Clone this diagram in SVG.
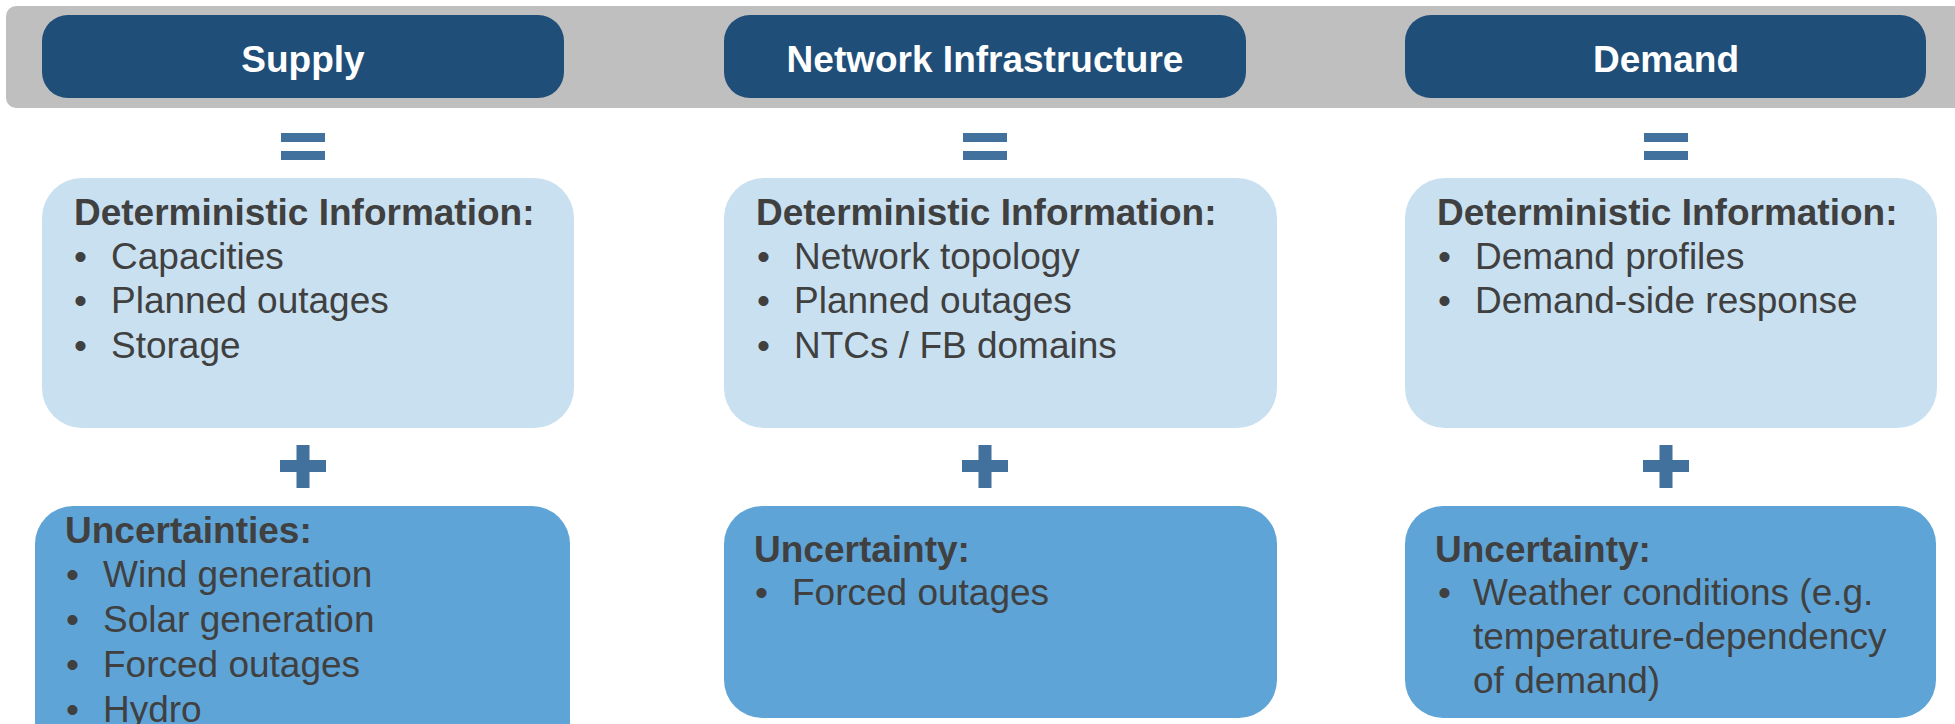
<svg xmlns="http://www.w3.org/2000/svg" width="1955" height="724" viewBox="0 0 1955 724">
<style>
.band{fill:#BFBFBF}
.hdr{fill:#1F4E79}
.det{fill:#C9E0F1}
.unc{fill:#5FA4D6}
.sign{fill:#41719C}
text{font-family:"Liberation Sans",Arial,sans-serif;font-size:37px;fill:#404040}
.ht{fill:#FFFFFF;font-weight:bold;text-anchor:middle}
.b{font-weight:bold}
</style>
<defs>
<g id="eq"><rect x="-22" y="0" width="44" height="9"/><rect x="-22" y="18" width="44" height="9"/></g>
<g id="plus"><rect x="-23" y="15" width="46" height="12"/><rect x="-6.5" y="0" width="13" height="43"/></g>
</defs>
<rect class="band" x="6" y="6" width="1970" height="102" rx="10"/>
<g id="connectors">
<use href="#eq" class="sign" x="303" y="133"/>
<use href="#eq" class="sign" x="985" y="133"/>
<use href="#eq" class="sign" x="1666" y="133"/>
<use href="#plus" class="sign" x="303" y="445"/>
<use href="#plus" class="sign" x="985" y="445"/>
<use href="#plus" class="sign" x="1666" y="445"/>
</g>
<g id="supply-header">
<rect class="hdr" x="42" y="15" width="522" height="83" rx="26"/>
<text class="ht" x="303" y="72">Supply</text>
</g>
<g id="network-header">
<rect class="hdr" x="724" y="15" width="522" height="83" rx="26"/>
<text class="ht" x="985" y="72">Network Infrastructure</text>
</g>
<g id="demand-header">
<rect class="hdr" x="1405" y="15" width="521" height="83" rx="26"/>
<text class="ht" x="1666" y="72">Demand</text>
</g>
<g id="supply-det">
<rect class="det" x="42" y="178" width="532" height="250" rx="40"/>
<text class="b" x="74" y="225">Deterministic Information:</text>
<text x="74" y="269">•</text><text x="111" y="269">Capacities</text>
<text x="74" y="313">•</text><text x="111" y="313">Planned outages</text>
<text x="74" y="358">•</text><text x="111" y="358">Storage</text>
</g>
<g id="network-det">
<rect class="det" x="724" y="178" width="553" height="250" rx="40"/>
<text class="b" x="756" y="225">Deterministic Information:</text>
<text x="757" y="269">•</text><text x="794" y="269">Network topology</text>
<text x="757" y="313">•</text><text x="794" y="313">Planned outages</text>
<text x="757" y="358">•</text><text x="794" y="358">NTCs / FB domains</text>
</g>
<g id="demand-det">
<rect class="det" x="1405" y="178" width="532" height="250" rx="40"/>
<text class="b" x="1437" y="225">Deterministic Information:</text>
<text x="1438" y="269">•</text><text x="1475" y="269">Demand profiles</text>
<text x="1438" y="313">•</text><text x="1475" y="313">Demand-side response</text>
</g>
<g id="supply-unc">
<rect class="unc" x="35" y="506" width="535" height="260" rx="38"/>
<text class="b" x="65" y="543">Uncertainties:</text>
<text x="66" y="587">•</text><text x="103" y="587">Wind generation</text>
<text x="66" y="632">•</text><text x="103" y="632">Solar generation</text>
<text x="66" y="677">•</text><text x="103" y="677">Forced outages</text>
<text x="66" y="722">•</text><text x="103" y="722">Hydro</text>
</g>
<g id="network-unc">
<rect class="unc" x="724" y="506" width="553" height="212" rx="38"/>
<text class="b" x="754" y="562">Uncertainty:</text>
<text x="755" y="605">•</text><text x="792" y="605">Forced outages</text>
</g>
<g id="demand-unc">
<rect class="unc" x="1405" y="506" width="531" height="212" rx="38"/>
<text class="b" x="1435" y="562">Uncertainty:</text>
<text x="1438" y="605">•</text><text x="1473" y="605">Weather conditions (e.g.</text>
<text x="1473" y="649">temperature-dependency</text>
<text x="1473" y="693">of demand)</text>
</g>
</svg>
